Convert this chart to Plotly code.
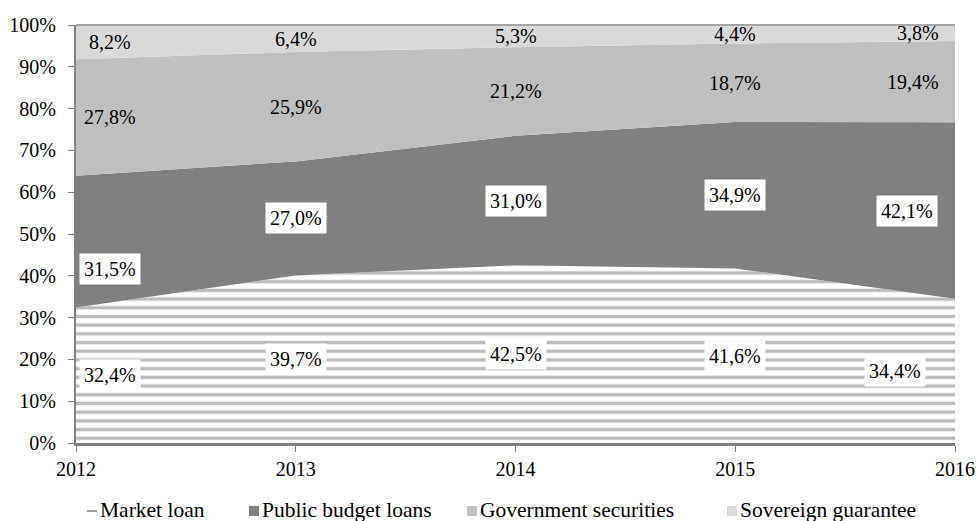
import plotly.graph_objects as go

years = [2012, 2013, 2014, 2015, 2016]
market_loan = [32.4, 39.7, 42.5, 41.6, 34.4]
public_budget = [31.5, 27.0, 31.0, 34.9, 42.1]
gov_securities = [27.8, 25.9, 21.2, 18.7, 19.4]
sovereign = [8.2, 6.4, 5.3, 4.4, 3.8]
series_names = ["Market loan", "Public budget loans", "Government securities", "Sovereign guarantee"]
y_ticks = [0, 10, 20, 30, 40, 50, 60, 70, 80, 90, 100]
y_tick_text = [f"{v}%" for v in y_ticks]

FONT = "Liberation Serif"
FS = 20
LEG_FS = 21.5
colors = ["#ffffff", "#808080", "#bfbfbf", "#d9d9d9"]
series = [market_loan, public_budget, gov_securities, sovereign]

fig = go.Figure()
for i, (name, vals) in enumerate(zip(series_names, series)):
    kw = dict(x=years, y=vals, name=name, mode="lines", stackgroup="one",
              line=dict(width=0), fillcolor=colors[i], showlegend=False,
              hoverinfo="skip")
    if i == 0:
        kw["groupnorm"] = "percent"
        kw["fillpattern"] = dict(shape="-", fgcolor="#7a7a7a", bgcolor="#ffffff",
                                 size=8.7, solidity=0.4)
    fig.add_trace(go.Scatter(**kw))

# data labels, placed at the middle of each segment (normalised)
def fmt(v):
    return f"{v:.1f}".replace(".", ",") + "%"

cum = [0.0] * len(years)
totals = [sum(s[j] for s in series) for j in range(len(years))]
first_shift = 34
last_shift = [-60, -48, -42, -37]
extra_y = {(1, 0): -27}
for i, vals in enumerate(series):
    for j, yr in enumerate(years):
        v = vals[j] / totals[j] * 100
        mid = cum[j] + v / 2
        cum[j] += v
        xs = 0
        if j == 0:
            xs = first_shift
        elif j == len(years) - 1:
            xs = last_shift[i]
        ys = extra_y.get((i, j), 0)
        boxed = i < 2
        fig.add_annotation(x=yr, y=mid, text=fmt(vals[j]), showarrow=False,
                           xshift=xs, yshift=ys,
                           font=dict(family=FONT, size=FS, color="#000000"),
                           bgcolor="#ffffff" if boxed else "rgba(0,0,0,0)",
                           borderpad=4)

# custom legend (symbols drawn as shapes, labels as text)
L, R, T, B = 76, 955, 25, 443
W, H = R - L, B - T
def px_x(p):
    return (p - L) / W
def px_y(p):
    return (B - p) / H

legend_sym_x = [87, 249, 467, 727]
legend_txt_x = [98, 260, 478, 738]
LEG_Y = 511
for k, name in enumerate(series_names):
    x0 = legend_sym_x[k]
    if k == 0:
        fig.add_shape(type="line", xref="paper", yref="paper",
                      x0=px_x(x0), x1=px_x(x0 + 10), y0=px_y(LEG_Y), y1=px_y(LEG_Y),
                      line=dict(color="#808080", width=1.5))
    else:
        fig.add_shape(type="rect", xref="paper", yref="paper",
                      x0=px_x(x0), x1=px_x(x0 + 10), y0=px_y(LEG_Y - 5), y1=px_y(LEG_Y + 5),
                      line=dict(width=0), fillcolor=colors[k])
    fig.add_annotation(xref="paper", yref="paper", x=px_x(legend_txt_x[k]), y=px_y(LEG_Y - 1),
                       xanchor="left", yanchor="middle", text=name, showarrow=False,
                       font=dict(family=FONT, size=LEG_FS, color="#000000"))

fig.add_shape(type="line", xref="paper", yref="paper", x0=0, x1=1, y0=1, y1=1,
              line=dict(color="#a6a6a6", width=2))

fig.update_layout(
    width=977, height=521,
    margin=dict(l=L, r=977 - R, t=T, b=521 - B, autoexpand=False),
    paper_bgcolor="#ffffff", plot_bgcolor="#ffffff",
    font=dict(family=FONT, size=FS, color="#000000"),
    xaxis=dict(range=[2012, 2016], tickmode="array", tickvals=years,
               ticktext=[str(y) for y in years], ticks="outside", ticklen=6,
               tickcolor="#808080", showgrid=False, zeroline=False, automargin=False,
               showline=True, linecolor="#808080", linewidth=3,
               tickfont=dict(family=FONT, size=FS, color="#000000")),
    yaxis=dict(range=[0, 100], tickmode="array", tickvals=y_ticks, ticktext=y_tick_text,
               ticks="outside", ticklen=6, tickcolor="#808080", showgrid=False,
               zeroline=False, showline=True, linecolor="#808080", linewidth=2,
               ticklabelstandoff=8, automargin=False,
               tickfont=dict(family=FONT, size=FS, color="#000000")),
)

fig.write_html("out.html", config={"displayModeBar": False},
               post_script="document.body.style.margin='0';document.body.style.overflow='hidden';")
